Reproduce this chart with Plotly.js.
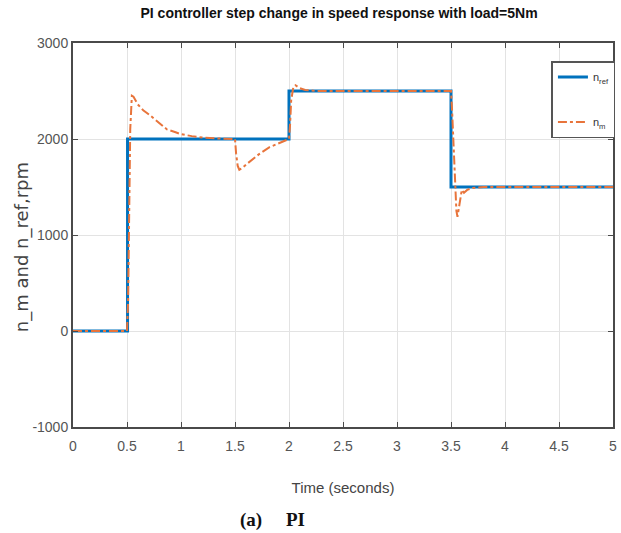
<!DOCTYPE html>
<html>
<head>
<meta charset="utf-8">
<script src="https://cdn.plot.ly/plotly-3.0.1.min.js"></script>
<style>html,body{margin:0;padding:0;background:#fff;}#chart{width:621px;height:533px;}</style>
</head>
<body>
<div id="chart"></div>
<script>
// Reference speed (step profile)
const tRef = [0, 0.505, 0.505, 2.0, 2.0, 3.5, 3.5, 5.0];
const nRef = [0, 0, 2000, 2000, 2500, 2500, 1500, 1500];

// Measured motor speed
const tMeas = [0, 0.50, 0.51, 0.52, 0.53, 0.545, 0.56, 0.60, 0.65, 0.71, 0.78, 0.87, 0.95, 1.00, 1.10, 1.20, 1.35, 1.50, 1.51, 1.525, 1.54, 1.57, 1.61, 1.66, 1.72, 1.82, 1.90, 1.97, 2.00, 2.01, 2.02, 2.04, 2.06, 2.10, 2.15, 2.25, 2.50, 3.00, 3.50, 3.51, 3.53, 3.55, 3.56, 3.58, 3.60, 3.62, 3.65, 3.70, 3.80, 4.00, 4.50, 5.00];
const nMeas = [0, 0, 300, 1200, 2100, 2450, 2440, 2360, 2300, 2250, 2180, 2100, 2070, 2050, 2030, 2015, 2005, 2000, 1850, 1720, 1680, 1700, 1740, 1790, 1840, 1915, 1955, 1985, 2000, 2150, 2400, 2540, 2560, 2530, 2510, 2500, 2500, 2500, 2500, 2300, 1700, 1250, 1190, 1350, 1470, 1440, 1470, 1490, 1500, 1500, 1500, 1500];

const xTicks = [0, 0.5, 1, 1.5, 2, 2.5, 3, 3.5, 4, 4.5, 5];
const xTickText = ['0', '0.5', '1', '1.5', '2', '2.5', '3', '3.5', '4', '4.5', '5'];
const yTicks = [-1000, 0, 1000, 2000, 3000];
const yTickText = ['-1000', '0', '1000', '2000', '3000'];

const traces = [
  {x: tRef, y: nRef, type: 'scatter', mode: 'lines', name: 'n<sub>ref</sub>',
   line: {color: '#0072BD', width: 3}, legendgroup: 'a'},
  {x: tMeas, y: nMeas, type: 'scatter', mode: 'lines', name: 'n<sub>m</sub>',
   line: {color: '#E8743B', width: 2, dash: 'dashdot'}, legendgroup: 'b'}
];

const axisCommon = {
  showline: true, mirror: 'ticks', linecolor: '#4a4a4a', linewidth: 2,
  ticks: 'inside', ticklen: 5, tickcolor: '#4a4a4a',
  showgrid: true, gridcolor: '#e3e3e3', gridwidth: 1, zeroline: false,
  tickfont: {family: 'Liberation Sans Narrow, Liberation Sans, Arial', size: 14, color: '#555'}
};

const layout = {
  width: 621, height: 533,
  margin: {l: 73, r: 6, t: 43, b: 106},
  paper_bgcolor: '#fff', plot_bgcolor: '#fff',
  title: {text: '<b>PI controller step change in speed response with load=5Nm</b>',
          font: {family: 'Liberation Sans Narrow, Liberation Sans, Arial', size: 14, color: '#111'},
          x: 0.546, xanchor: 'center', y: 0.975, yanchor: 'middle'},
  xaxis: Object.assign({}, axisCommon, {
    range: [0, 5], tickmode: 'array', tickvals: xTicks, ticktext: xTickText,
    ticklabelstandoff: 5,
    title: {text: 'Time (seconds)', standoff: 30,
            font: {family: 'Liberation Sans Narrow, Liberation Sans, Arial', size: 15, color: '#444'}}
  }),
  yaxis: Object.assign({}, axisCommon, {
    range: [-1000, 3000], tickmode: 'array', tickvals: yTicks, ticktext: yTickText
  }),
  showlegend: true,
  legend: {x: 0.886, y: 0.953, xanchor: 'left', yanchor: 'top',
           bordercolor: '#555', borderwidth: 1.5, bgcolor: '#fff',
           traceorder: 'grouped', tracegroupgap: 26, itemwidth: 30,
           font: {family: 'Liberation Sans Narrow, Liberation Sans, Arial', size: 11, color: '#333'}},
  annotations: [
    {text: 'n_m and n_ref,rpm', xref: 'paper', yref: 'paper', x: -0.094, y: 0.469,
     xanchor: 'center', yanchor: 'middle', textangle: -90, showarrow: false,
     font: {family: 'DejaVu Sans, Arial', size: 18, color: '#444'}},
    {text: '<b>(a)     PI</b>', xref: 'paper', yref: 'paper', x: 0.369, y: -0.242,
     xanchor: 'center', yanchor: 'middle', showarrow: false,
     font: {family: 'Liberation Serif, DejaVu Serif, serif', size: 19, color: '#111'}}
  ]
};

Plotly.newPlot('chart', traces, layout, {displayModeBar: false, staticPlot: true});
</script>
</body>
</html>
